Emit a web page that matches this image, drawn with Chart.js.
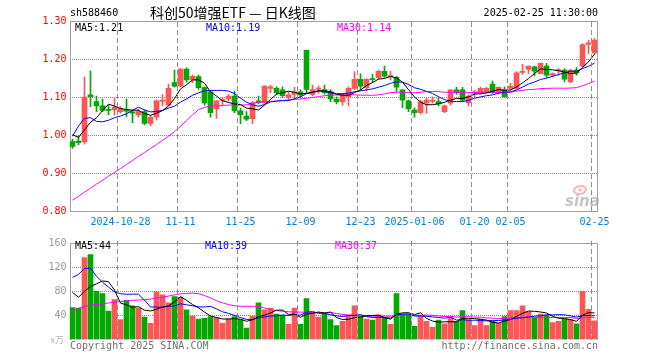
<!DOCTYPE html>
<html><head><meta charset="utf-8">
<script src="https://cdn.jsdelivr.net/npm/chart.js@4.4.1/dist/chart.umd.min.js"></script>
<style>
html,body{margin:0;padding:0;background:#fff;width:660px;height:360px;overflow:hidden}
canvas{position:absolute;left:0}
#pc{top:0}
#vc{top:234px}
</style></head><body>
<canvas id="pc" width="660" height="234"></canvas>
<canvas id="vc" width="660" height="126"></canvas>
<script>
// ---------------- data ----------------
const dates = ["2024-10-16","2024-10-17","2024-10-18","2024-10-21","2024-10-22","2024-10-23","2024-10-24","2024-10-25","2024-10-28","2024-10-29","2024-10-30","2024-10-31","2024-11-01","2024-11-04","2024-11-05","2024-11-06","2024-11-07","2024-11-08","2024-11-11","2024-11-12","2024-11-13","2024-11-14","2024-11-15","2024-11-18","2024-11-19","2024-11-20","2024-11-21","2024-11-22","2024-11-25","2024-11-26","2024-11-27","2024-11-28","2024-11-29","2024-12-02","2024-12-03","2024-12-04","2024-12-05","2024-12-06","2024-12-09","2024-12-10","2024-12-11","2024-12-12","2024-12-13","2024-12-16","2024-12-17","2024-12-18","2024-12-19","2024-12-20","2024-12-23","2024-12-24","2024-12-25","2024-12-26","2024-12-27","2024-12-30","2024-12-31","2025-01-02","2025-01-03","2025-01-06","2025-01-07","2025-01-08","2025-01-09","2025-01-10","2025-01-13","2025-01-14","2025-01-15","2025-01-16","2025-01-17","2025-01-20","2025-01-21","2025-01-22","2025-01-23","2025-01-24","2025-01-27","2025-02-05","2025-02-06","2025-02-07","2025-02-10","2025-02-11","2025-02-12","2025-02-13","2025-02-14","2025-02-17","2025-02-18","2025-02-19","2025-02-20","2025-02-21","2025-02-24","2025-02-25"];

const openP  = [0.984,0.985,0.983,1.107,1.089,1.078,1.069,1.067,1.063,1.067,1.062,1.054,1.063,1.032,1.048,1.090,1.080,1.139,1.130,1.175,1.146,1.155,1.126,1.115,1.070,1.092,1.096,1.104,1.065,1.051,1.044,1.091,1.086,1.124,1.124,1.120,1.100,1.108,1.115,1.224,1.108,1.122,1.121,1.115,1.096,1.089,1.102,1.124,1.148,1.126,1.149,1.152,1.169,1.155,1.153,1.120,1.091,1.067,1.060,1.086,1.090,1.089,1.063,1.085,1.120,1.120,1.086,1.111,1.113,1.115,1.135,1.115,1.121,1.124,1.124,1.166,1.174,1.181,1.163,1.183,1.159,1.170,1.172,1.141,1.172,1.183,1.240,1.217];
const closeP = [0.971,0.981,1.101,1.102,1.078,1.066,1.066,1.074,1.071,1.064,1.059,1.063,1.032,1.048,1.091,1.093,1.124,1.130,1.175,1.146,1.156,1.126,1.086,1.060,1.091,1.094,1.104,1.065,1.054,1.043,1.086,1.087,1.130,1.128,1.113,1.105,1.107,1.115,1.107,1.121,1.121,1.125,1.113,1.096,1.089,1.107,1.124,1.148,1.130,1.148,1.147,1.169,1.156,1.157,1.127,1.093,1.070,1.060,1.089,1.093,1.093,1.083,1.078,1.120,1.113,1.093,1.104,1.115,1.124,1.124,1.115,1.127,1.102,1.130,1.165,1.169,1.183,1.169,1.190,1.159,1.163,1.173,1.148,1.172,1.165,1.239,1.244,1.251];
const highP  = [0.990,1.000,1.154,1.170,1.104,1.096,1.080,1.100,1.076,1.096,1.067,1.069,1.067,1.052,1.093,1.108,1.135,1.172,1.176,1.178,1.159,1.159,1.128,1.118,1.092,1.100,1.108,1.117,1.072,1.063,1.090,1.104,1.131,1.133,1.128,1.128,1.115,1.127,1.120,1.225,1.133,1.130,1.133,1.121,1.102,1.111,1.128,1.168,1.162,1.150,1.161,1.172,1.183,1.169,1.156,1.120,1.093,1.073,1.093,1.098,1.102,1.098,1.080,1.120,1.127,1.127,1.107,1.118,1.127,1.127,1.143,1.128,1.128,1.137,1.168,1.187,1.183,1.183,1.191,1.190,1.165,1.176,1.176,1.174,1.179,1.242,1.251,1.255];
const lowP   = [0.966,0.976,0.977,1.076,1.063,1.063,1.054,1.054,1.059,1.050,1.034,1.048,1.028,1.026,1.041,1.078,1.078,1.127,1.128,1.141,1.139,1.121,1.080,1.048,1.045,1.078,1.091,1.060,1.031,1.039,1.031,1.083,1.085,1.113,1.109,1.100,1.093,1.095,1.098,1.111,1.104,1.111,1.109,1.089,1.083,1.080,1.078,1.120,1.120,1.118,1.139,1.148,1.153,1.146,1.115,1.073,1.063,1.048,1.056,1.058,1.085,1.078,1.060,1.080,1.108,1.089,1.078,1.102,1.109,1.112,1.111,1.109,1.100,1.120,1.122,1.161,1.162,1.157,1.162,1.153,1.155,1.159,1.141,1.139,1.159,1.181,1.216,1.214];
// volume, 万
const volume = [53,52,136,141,80,76,47,66,33,65,56,52,37,27,79,74,61,71,70,49,39,34,35,38,36,27,34,38,33,19,39,61,49,52,42,40,25,52,25,68,46,37,43,33,23,30,39,56,38,34,32,41,37,25,76,42,42,22,39,30,20,32,26,39,30,48,33,23,34,23,30,27,38,48,48,56,46,36,42,40,28,30,34,33,26,80,50,31];

// moving-average values at the window start (earlier days are not shown)
const priceMA5Lead  = [1.002,0.995,1.015,1.035];
const priceMA10Lead = [0.998,1.025,1.045,1.047,1.037,1.036,1.040,1.047,1.051];
const priceMA30Lead = [0.830,0.840,0.851,0.861,0.872,0.882,0.893,0.903,0.913,0.924,0.934,0.945,0.955,0.966,0.976,0.987,0.998,1.010,1.024,1.039,1.054,1.068,1.074,1.077,1.078,1.079,1.080,1.080,1.080];
const volMA5Lead  = [78,70,80,88];
const volMA10Lead = [103,108,118,118,105,95,87,79,76];
const volMA30Lead = [47,51.5,55,57,58,59,60.6,62,63,64,65,65.5,66,67,69,70,72,74,76,76,77,76,73,69,64.5,60.7,58,56,55];

const priceTicks = [0.80,0.90,1.00,1.10,1.20,1.30];
const volTicks = [0,40,80,120,160];
const tickDates  = ["2024-10-28","2024-11-11","2024-11-25","2024-12-09","2024-12-23","2025-01-06","2025-01-20","2025-02-05","2025-02-25"];
const tickLabels = ["2024-10-28","11-11","11-25","12-09","12-23","2025-01-06","01-20","02-05","02-25"];

const code = "sh588460";
const titleText = "科创50增强ETF — 日K线图";
const stamp = "2025-02-25 11:30:00";

// ---------------- helpers ----------------
function movingAvg(src, n, lead){
  return src.map((_, i) => {
    if (i < lead.length) return lead[i];
    let s = 0; for (let k = i - n + 1; k <= i; k++) s += src[k];
    return s / n;
  });
}
const ma5P = movingAvg(closeP, 5, priceMA5Lead);
const ma10P = movingAvg(closeP, 10, priceMA10Lead);
const ma30P = movingAvg(closeP, 30, priceMA30Lead);
const ma5V = movingAvg(volume, 5, volMA5Lead);
const ma10V = movingAvg(volume, 10, volMA10Lead);
const ma30V = movingAvg(volume, 30, volMA30Lead);

const bodies = openP.map((o, i) => [o, closeP[i]]);
const wicks = lowP.map((l, i) => [l, highP[i]]);

const RED = '#ff5555', GREEN = '#00a800';
const upColor = (ctx) => closeP[ctx.dataIndex] >= openP[ctx.dataIndex] ? RED : GREEN;
const MONO = '"DejaVu Sans Mono", "Liberation Mono", monospace';
const FONT10 = '10px ' + MONO;
const tickIdx = tickDates.map(d => dates.indexOf(d));
const GRID = '#8a8a8a';
const DASH = '#909090';

function lineDs(data, color){
  return {type:'line', data, borderColor:color, borderWidth:1, pointRadius:0, tension:0, order:0, fill:false};
}

// dashed vertical date lines, placed in the 1px gap just before each date's candle
function drawVDashes(ctx, xScale, top, bottom){
  ctx.save();
  ctx.globalAlpha = 1;
  ctx.globalCompositeOperation = 'source-over';
  ctx.fillStyle = DASH;
  for (let k = 0; k < tickIdx.length; k++) {
    const c = xScale.getPixelForValue(tickIdx[k]);
    const px = Math.floor(c) - 3;
    for (let yy = top; yy < bottom; yy += 8) ctx.fillRect(px, yy, 1, Math.min(5, bottom - yy));
  }
  ctx.restore();
}
// dotted horizontal grid lines
function drawHDots(ctx, yScale, vals, left, right){
  ctx.save();
  ctx.fillStyle = GRID;
  vals.forEach(v => {
    const py = Math.floor(yScale.getPixelForValue(v));
    for (let xx = left; xx < right; xx += 2) ctx.fillRect(xx, py, 1, 1);
  });
  ctx.restore();
}

// ---------------- price chart ----------------
const pricePlugin = {
  id: 'pricePlugin',
  beforeDatasetsDraw(chart){
    const {ctx, chartArea: ca, scales} = chart;
    // sina watermark
    ctx.save();
    ctx.strokeStyle = '#f4b8b8'; ctx.lineWidth = 2;
    ctx.beginPath(); ctx.ellipse(580, 190, 6, 4, -0.2, 0, Math.PI*2); ctx.stroke();
    ctx.fillStyle = '#f4b8b8';
    ctx.beginPath(); ctx.arc(580, 190, 1.8, 0, Math.PI*2); ctx.fill();
    ctx.fillStyle = '#c4c4c4';
    ctx.font = 'italic bold 15px "DejaVu Sans", sans-serif';
    ctx.textAlign = 'left'; ctx.textBaseline = 'alphabetic';
    ctx.fillText('sina', 565, 206);
    ctx.restore();
    drawHDots(ctx, scales.y, priceTicks.slice(1, -1), 72, 597);
    ctx.save();
    ctx.strokeStyle = '#a0a0a0'; ctx.lineWidth = 1;
    ctx.strokeRect(70.5, Math.floor(ca.top) + 0.5, 527, Math.floor(ca.bottom) - Math.floor(ca.top));
    ctx.restore();
  },
  afterDraw(chart){
    const {ctx, scales} = chart;
    drawVDashes(ctx, scales.x, 22, 211);
    ctx.save();
    ctx.textBaseline = 'middle';
    ctx.font = FONT10;
    const last = closeP.length - 1;
    ctx.textAlign = 'left';
    ctx.fillStyle = '#000'; ctx.fillText('MA5:' + ma5P[last].toFixed(2), 75, 28);
    ctx.fillStyle = '#0000ff'; ctx.fillText('MA10:' + ma10P[last].toFixed(2), 206, 28);
    ctx.fillStyle = '#ff00ff'; ctx.fillText('MA30:' + ma30P[last].toFixed(2), 337, 28);
    // header
    ctx.fillStyle = '#000';
    ctx.font = FONT10;
    ctx.fillText(code, 70, 13);
    ctx.textAlign = 'right';
    ctx.fillText(stamp, 598, 13);
    ctx.textAlign = 'left';
    ctx.font = '14px "Noto Sans CJK SC", sans-serif';
    ctx.fillText(titleText, 150, 13);
    ctx.restore();
  }
};

new Chart(document.getElementById('pc'), {
  type: 'bar',
  data: {
    labels: dates,
    datasets: [
      lineDs(ma5P, '#000000'),
      lineDs(ma10P, '#0000ff'),
      lineDs(ma30P, '#ff00ff'),
      {type:'bar', data: wicks, backgroundColor: upColor, barThickness: 1, grouped: false, order: 2, minBarLength: 1, borderWidth: 0},
      {type:'bar', data: bodies, backgroundColor: upColor, barThickness: 5, grouped: false, order: 1, minBarLength: 1, borderWidth: 0}
    ]
  },
  options: {
    responsive: false, animation: false, devicePixelRatio: 1,
    layout: {padding: {top: 21.5, left: 0, right: 62.5, bottom: 0}},
    plugins: {legend: {display: false}, tooltip: {enabled: false}},
    scales: {
      x: {
        type: 'category', offset: true,
        grid: {display: false, drawTicks: false}, border: {display: false},
        ticks: {autoSkip: false, maxRotation: 0, minRotation: 0, padding: 5, color: 'rgb(0,128,210)', font: {family: MONO, size: 10},
          callback: (v, i) => { const k = tickIdx.indexOf(i); return k >= 0 ? tickLabels[k] : ''; }},
        afterFit: s => { s.height = 22.5; }
      },
      y: {
        min: 0.8, max: 1.3,
        grid: {display: false, drawTicks: false}, border: {display: false},
        afterBuildTicks: s => { s.ticks = priceTicks.map(v => ({value: v})); },
        ticks: {padding: 3, color: '#ff0000', font: {family: MONO, size: 10}, callback: v => Number(v).toFixed(2)},
        afterFit: s => { s.width = 69.5; }
      }
    }
  },
  plugins: [pricePlugin]
});

// ---------------- volume chart ----------------
const volPlugin = {
  id: 'volPlugin',
  beforeDatasetsDraw(chart){
    const {ctx, chartArea: ca, scales} = chart;
    drawHDots(ctx, scales.y, volTicks.slice(1, -1), 72, 597);
    ctx.save();
    ctx.strokeStyle = '#a0a0a0'; ctx.lineWidth = 1;
    const t = Math.floor(ca.top) + 0.5;
    ctx.beginPath();
    ctx.moveTo(70.5, 106); ctx.lineTo(70.5, t); ctx.lineTo(597.5, t); ctx.lineTo(597.5, 106);
    ctx.stroke();
    ctx.restore();
  },
  afterDraw(chart){
    const {ctx, scales} = chart;
    drawVDashes(ctx, scales.x, 7, 106);
    ctx.save();
    ctx.textBaseline = 'middle'; ctx.textAlign = 'left';
    ctx.font = FONT10;
    const last = volume.length - 1;
    ctx.fillStyle = '#000'; ctx.fillText('MA5:' + Math.round(ma5V[last]), 75, 12);
    ctx.fillStyle = '#0000ff'; ctx.fillText('MA10:' + Math.round(ma10V[last]), 205, 12);
    ctx.fillStyle = '#ff00ff'; ctx.fillText('MA30:' + Math.round(ma30V[last]), 335, 12);
    ctx.fillStyle = '#707070';
    ctx.fillText('Copyright 2025 SINA.COM', 70, 112);
    ctx.textAlign = 'right';
    ctx.fillText('http://finance.sina.com.cn', 598, 112);
    ctx.fillStyle = '#b8b8b8';
    ctx.font = '9px "Noto Sans CJK SC", sans-serif';
    ctx.fillText('x万', 64, 106);
    ctx.restore();
  }
};

new Chart(document.getElementById('vc'), {
  type: 'bar',
  data: {
    labels: dates,
    datasets: [
      lineDs(ma5V, '#000000'),
      lineDs(ma10V, '#0000ff'),
      lineDs(ma30V, '#ff00ff'),
      {type:'bar', data: volume, backgroundColor: upColor, barThickness: 5, grouped: false, order: 1, borderWidth: 0}
    ]
  },
  options: {
    responsive: false, animation: false, devicePixelRatio: 1,
    layout: {padding: {top: 6.5, left: 0, right: 62.5, bottom: 20.5}},
    plugins: {legend: {display: false}, tooltip: {enabled: false}},
    scales: {
      x: {type: 'category', offset: true, display: false},
      y: {
        min: 0, max: 160,
        grid: {display: false, drawTicks: false}, border: {display: false},
        afterBuildTicks: s => { s.ticks = volTicks.map(v => ({value: v})); },
        ticks: {padding: 3, color: '#999999', font: {family: MONO, size: 10}, callback: v => v === 0 ? '' : String(v)},
        afterFit: s => { s.width = 69.5; }
      }
    }
  },
  plugins: [volPlugin]
});
</script>
</body></html>
